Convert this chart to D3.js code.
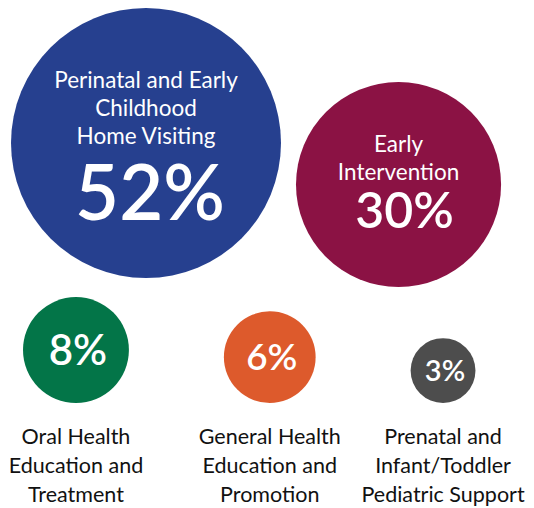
<!DOCTYPE html>
<html lang="en">
<head>
  <meta charset="UTF-8">
  <title>Program Share Bubbles</title>
  <script src="https://d3js.org/d3.v7.min.js"></script>
  <style>
    body { margin: 0; background: #fff; }
    .inside { fill: #fff; font-family: Lato, sans-serif; text-anchor: middle; }
    .pct { fill: #fff; font-family: Lato, sans-serif; font-weight: 600; text-anchor: middle; }
    .below { fill: #111; font-family: Lato, sans-serif; text-anchor: middle; }
  </style>
</head>
<body>
  <svg width="534" height="508"></svg>
  <script>
    // data
    const programs = [
      ["Perinatal and Early", "Childhood", "Home Visiting"],
      ["Early", "Intervention"],
      ["Oral Health", "Education and", "Treatment"],
      ["General Health", "Education and", "Promotion"],
      ["Prenatal and", "Infant/Toddler", "Pediatric Support"]
    ];
    const shares = [52, 30, 8, 6, 3];
    const colors = ["#26408f", "#8b1244", "#037548", "#dd5a2c", "#4d4d4d"];
    const rows = [0, 0, 1, 1, 1];

    const svg = d3.select("svg");
    const r = d3.scaleSqrt().domain([0, 52]).range([0, 135]);

    const items = shares.map((v, i) => ({ v, i, lines: programs[i], color: colors[i], row: rows[i], r: r(v) }));

    // top row: packed left to right, gap 15; bottom row: gap 95, bottom aligned
    const rowCfg = [
      { left: 11, gap: 15 },
      { left: 23, gap: 95, bottom: 403 }
    ];
    rowCfg.forEach((cfg, ri) => {
      let x = cfg.left;
      items.filter(d => d.row === ri).forEach(d => {
        d.x = x + d.r;
        x += 2 * d.r + cfg.gap;
      });
    });
    items.forEach(d => {
      if (d.row === 1) d.y = rowCfg[1].bottom - d.r;
    });
    items[0].y = 8 + items[0].r;
    items[1].y = items[0].y + 41.5;

    const g = svg.selectAll("g.bubble")
      .data(items)
      .enter()
      .append("g")
      .attr("class", "bubble")
      .attr("transform", d => `translate(${d.x},${d.y})`);

    g.append("circle")
      .attr("r", d => d.r)
      .attr("fill", d => d.color);

    // labels inside the two big circles
    const bigOnes = g.filter(d => d.row === 0);
    const lh = 28;
    bigOnes.each(function(d) {
      const fs = 22.5;
      const pctSize = d.i === 0 ? 76 : 50;
      const first = d.i === 0 ? -55 : -33;
      d3.select(this).selectAll("text.inside")
        .data(d.lines)
        .enter()
        .append("text")
        .attr("class", "inside")
        .attr("y", (t, k) => first + k * lh)
        .style("font-size", fs + "px")
        .text(t => t);
      d3.select(this).append("text")
        .attr("class", "pct")
        .attr("x", d.i === 0 ? 4 : 6)
        .attr("y", d.i === 0 ? 77 : 43.5)
        .style("font-size", pctSize + "px")
        .text(d.v + "%");
    });

    // small circles: value inside, name below
    const smallOnes = g.filter(d => d.row === 1);
    const pctSizes = d3.scaleLinear().domain([3, 8]).range([29, 42]);
    smallOnes.append("text")
      .attr("class", "pct")
      .attr("x", 2)
      .attr("y", d => pctSizes(d.v) * 0.36)
      .style("font-size", d => pctSizes(d.v) + "px")
      .text(d => d.v + "%");

    smallOnes.each(function(d) {
      d3.select(this).selectAll("text.below")
        .data(d.lines)
        .enter()
        .append("text")
        .attr("class", "below")
        .attr("y", (t, k) => 444 - d.y + k * 29)
        .style("font-size", "21.5px")
        .text(t => t);
    });
  </script>
</body>
</html>
